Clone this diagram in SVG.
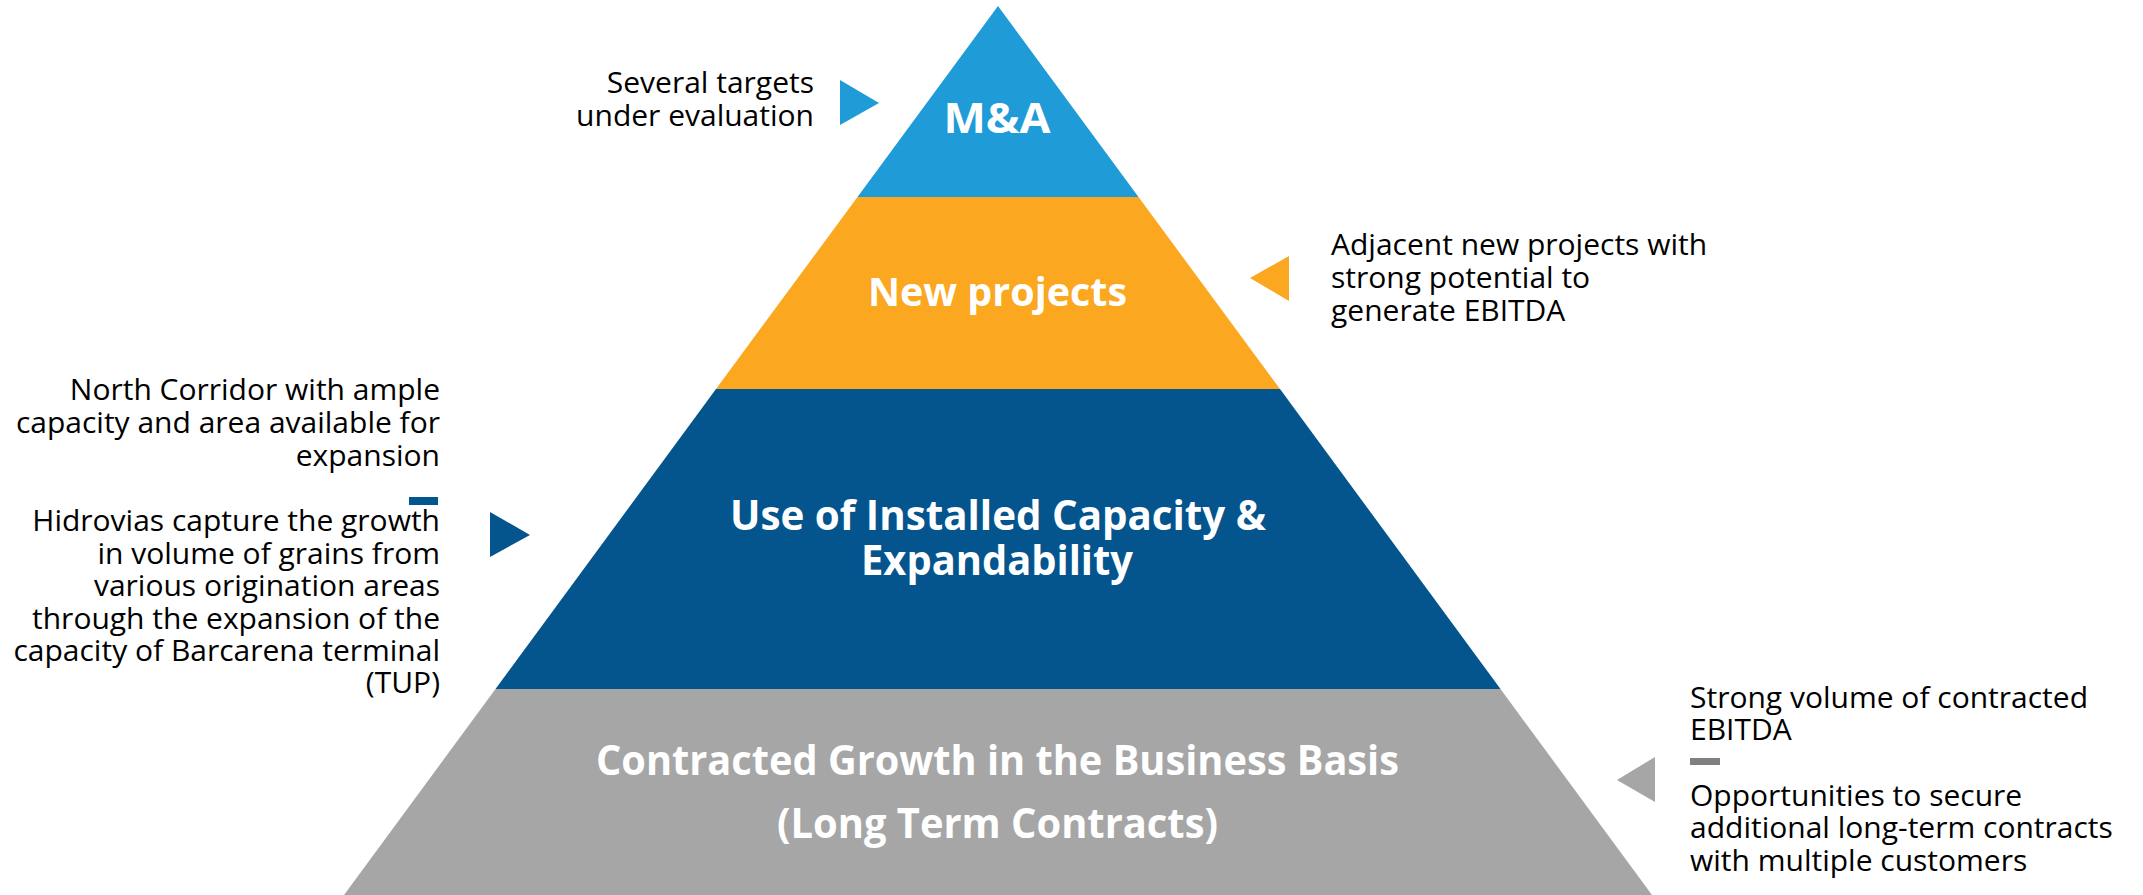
<svg xmlns="http://www.w3.org/2000/svg" width="2143" height="895" viewBox="0 0 2143 895">
<style>
.lbl{font-family:"Open Sans","Liberation Sans",sans-serif;font-weight:700;fill:#ffffff;text-anchor:middle}
.note{font-family:"Open Sans","Liberation Sans",sans-serif;font-size:30px;fill:#000000}
.r{text-anchor:end}
</style>
<rect width="2143" height="895" fill="#ffffff"/>
<g id="node-ma">
<polygon points="998,6 1138.5,197 857.5,197" fill="#1F9BD7"/>
<text class="lbl" x="997" y="133" font-size="42" textLength="107" lengthAdjust="spacingAndGlyphs">M&amp;A</text>
</g>
<g id="node-new-projects">
<polygon points="857.5,197 1138.5,197 1280,389 716,389" fill="#FBA71F"/>
<text class="lbl" x="997.5" y="306" font-size="40" textLength="259" lengthAdjust="spacingAndGlyphs">New projects</text>
</g>
<g id="node-installed-capacity">
<polygon points="716,389 1280,389 1500.5,689 495.5,689" fill="#04548E"/>
<text class="lbl" x="998" y="530" font-size="42" textLength="536" lengthAdjust="spacingAndGlyphs">Use of Installed Capacity &amp;</text>
<text class="lbl" x="997" y="575" font-size="42" textLength="272" lengthAdjust="spacingAndGlyphs">Expandability</text>
</g>
<g id="node-contracted-growth">
<polygon points="495.5,689 1500.5,689 1652,895 344,895" fill="#A6A6A6"/>
<text class="lbl" x="997.5" y="775" font-size="42" textLength="803" lengthAdjust="spacingAndGlyphs">Contracted Growth in the Business Basis</text>
<text class="lbl" x="997.5" y="838" font-size="42" textLength="441" lengthAdjust="spacingAndGlyphs">(Long Term Contracts)</text>
</g>
<g id="note-ma">
<text class="note r" x="814" y="93">Several targets</text>
<text class="note r" x="814" y="126">under evaluation</text>
</g>
<g id="note-new-projects">
<text class="note" x="1331" y="255">Adjacent new projects with</text>
<text class="note" x="1331" y="288">strong potential to</text>
<text class="note" x="1331" y="321">generate EBITDA</text>
</g>
<g id="note-installed-capacity">
<text class="note r" x="440" y="400">North Corridor with ample</text>
<text class="note r" x="440" y="433">capacity and area available for</text>
<text class="note r" x="440" y="466">expansion</text>
<rect x="409" y="497" width="29" height="8" fill="#04548E"/>
<text class="note r" x="440" y="531">Hidrovias capture the growth</text>
<text class="note r" x="440" y="564">in volume of grains from</text>
<text class="note r" x="440" y="596">various origination areas</text>
<text class="note r" x="440" y="629">through the expansion of the</text>
<text class="note r" x="440" y="661">capacity of Barcarena terminal</text>
<text class="note r" x="440" y="693">(TUP)</text>
</g>
<g id="note-contracted-growth">
<text class="note" x="1690" y="708">Strong volume of contracted</text>
<text class="note" x="1690" y="740">EBITDA</text>
<rect x="1690" y="758" width="30" height="7" fill="#808080"/>
<text class="note" x="1690" y="806">Opportunities to secure</text>
<text class="note" x="1690" y="838">additional long-term contracts</text>
<text class="note" x="1690" y="871">with multiple customers</text>
</g>
<g id="connectors">
<polygon points="840,80 840,125 879,103" fill="#1F9BD7"/>
<polygon points="1289,256 1289,301 1250,278" fill="#FBA71F"/>
<polygon points="490,512 490,557 530,535" fill="#04548E"/>
<polygon points="1655,757 1655,802 1617,780" fill="#A6A6A6"/>
</g>
</svg>
